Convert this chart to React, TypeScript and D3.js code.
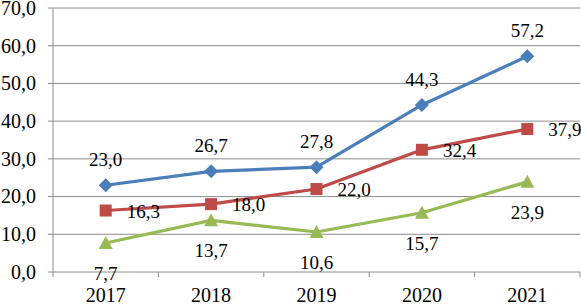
import React from 'react';
import * as d3 from 'd3';

const years = ['2017', '2018', '2019', '2020', '2021'];
const blueValues = [23.0, 26.7, 27.8, 44.3, 57.2];
const redValues = [16.3, 18.0, 22.0, 32.4, 37.9];
const greenValues = [7.7, 13.7, 10.6, 15.7, 23.9];
const yTicks = [0, 10, 20, 30, 40, 50, 60, 70];

const width = 581;
const height = 304;
const margin = { top: 8, right: 1, bottom: 32, left: 53 };
const font = 'Liberation Serif';

const fmt = (v: number) => v.toFixed(1).replace('.', ',');

const App = () => {
    const x = d3.scaleBand()
        .domain(years)
        .range([margin.left, width - margin.right]);

    const y = d3.scaleLinear()
        .domain([0, 70])
        .range([height - margin.bottom, margin.top]);

    const cx = (d: string) => (x(d) as number) + x.bandwidth() / 2;

    const line = d3.line<number>()
        .x((_, i) => cx(years[i]))
        .y(d => y(d));

    // boundaries between categories for x tick marks
    const bounds = years.map(d => x(d) as number).concat([width - margin.right]);

    const series = [
        { values: blueValues, color: '#4a7ebb', marker: 'diamond', label: 'above' },
        { values: redValues, color: '#be4b48', marker: 'square', label: 'right' },
        { values: greenValues, color: '#98b954', marker: 'triangle', label: 'below' },
    ];

    const marker = (type: string, px: number, py: number, color: string, key: string) => {
        if (type === 'diamond') {
            const s = 7;
            return <path key={key} d={`M${px},${py - s}L${px + s},${py}L${px},${py + s}L${px - s},${py}Z`} fill={color} />;
        }
        if (type === 'square') {
            const s = 6;
            return <rect key={key} x={px - s} y={py - s} width={s * 2} height={s * 2} fill={color} />;
        }
        const s = 7;
        return <path key={key} d={`M${px},${py - s}L${px + s},${py + s - 1}L${px - s},${py + s - 1}Z`} fill={color} />;
    };

    return (
        <svg width={width} height={height} style={{ position: 'absolute', left: 0, top: 0, background: '#fff' }}>
            {/* gridlines */}
            {yTicks.map(t => (
                <line key={'g' + t} x1={margin.left - 5} x2={width - margin.right} y1={y(t)} y2={y(t)}
                    stroke="#8c8c8c" strokeWidth={1} />
            ))}
            {/* y axis */}
            <line x1={margin.left} x2={margin.left} y1={y(70)} y2={y(0)} stroke="#8c8c8c" />
            {yTicks.map(t => (
                <text key={'yt' + t} x={36} y={y(t)} dy="0.34em" textAnchor="end"
                    fontFamily={font} fontSize={20} fill="#000">{fmt(t)}</text>
            ))}
            {/* x tick marks */}
            {bounds.map((b, i) => (
                <line key={'xt' + i} x1={b} x2={b} y1={y(0)} y2={y(0) + 5} stroke="#8c8c8c" />
            ))}
            {years.map(d => (
                <text key={'xl' + d} x={cx(d)} y={302} textAnchor="middle"
                    fontFamily={font} fontSize={20} fill="#000">{d}</text>
            ))}
            {/* series */}
            {series.map((s, si) => (
                <g key={'s' + si}>
                    <path d={line(s.values) || ''} fill="none" stroke={s.color} strokeWidth={3.2} strokeLinejoin="round" />
                    {s.values.map((v, i) => marker(s.marker, cx(years[i]), y(v), s.color, 'm' + si + i))}
                    {s.values.map((v, i) => {
                        const px = cx(years[i]);
                        const py = y(v);
                        let lx = px, ly = py, anchor = 'middle';
                        if (s.label === 'above') { ly = py - 19; }
                        else if (s.label === 'right') { lx = px + 21; ly = py + 7; anchor = 'start'; }
                        else { ly = py + 37; }
                        return (
                            <text key={'l' + si + i} x={lx} y={ly} textAnchor={anchor}
                                fontFamily={font} fontSize={19} fill="#000">{fmt(v)}</text>
                        );
                    })}
                </g>
            ))}
        </svg>
    );
};

export default App;
